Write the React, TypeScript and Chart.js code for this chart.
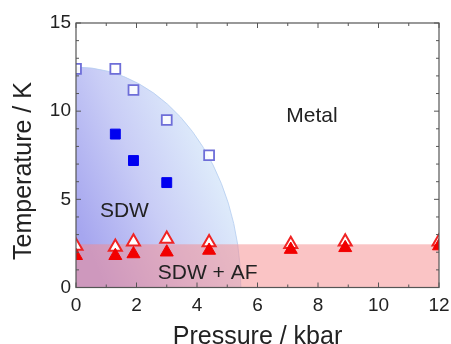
import React, { useEffect, useRef } from "react";
import { Chart, registerables } from "chart.js";

Chart.register(...registerables);

// ---- data ----
const tcOnsetP = [0, 1.3, 1.9, 3.0, 4.4];
const tcOnsetT = [12.4, 12.4, 11.2, 9.5, 7.5];
const tcMidP = [1.3, 1.9, 3.0];
const tcMidT = [8.7, 7.2, 5.95];
const afOnsetP = [0, 1.3, 1.9, 3.0, 4.4, 7.1, 8.9, 12];
const afOnsetT = [2.35, 2.3, 2.6, 2.75, 2.55, 2.45, 2.6, 2.6];
const afMidP = [0, 1.3, 1.9, 3.0, 4.4, 7.1, 8.9, 12];
const afMidT = [1.8, 1.8, 1.9, 2.0, 2.1, 2.15, 2.25, 2.35];

const sdwDome = [5.45, 12.5]; // [critical pressure, T at zero pressure]
const afBand = [0, 12, 2.45]; // [p from, p to, T top]
const regionNames = ["Metal", "SDW", "SDW + AF"];
const regionP = [7.8, 1.6, 4.35];
const regionT = [9.7, 4.3, 0.8];

const xRange = [0, 12];
const yRange = [0, 15];
const xTitle = "Pressure / kbar";
const yTitle = "Temperature / K";

const FONT = "'Liberation Sans', Arial, Helvetica, sans-serif";

const pts = (xs: number[], ys: number[]) => xs.map((x, i) => ({ x, y: ys[i] }));

const phasePlugin = {
  id: "phases",
  beforeDatasetsDraw(chart: any) {
    const { ctx, chartArea: a, scales } = chart;
    const xs = scales.x, ys = scales.y;
    ctx.save();
    ctx.beginPath();
    ctx.rect(a.left, a.top, a.right - a.left, a.bottom - a.top);
    ctx.clip();
    // SDW dome
    const cx = xs.getPixelForValue(0);
    const cy = ys.getPixelForValue(0);
    const rx = xs.getPixelForValue(sdwDome[0]) - cx;
    const ry = cy - ys.getPixelForValue(sdwDome[1]);
    const g = ctx.createLinearGradient(cx, cy - ry * 0.3, cx + rx * 0.95, cy - ry * 0.6);
    g.addColorStop(0, "#a6a6ef");
    g.addColorStop(0.45, "#c9cdf6");
    g.addColorStop(1, "#e4f4fc");
    ctx.beginPath();
    ctx.moveTo(cx, cy);
    ctx.ellipse(cx, cy, rx, ry, 0, -Math.PI / 2, 0);
    ctx.closePath();
    ctx.fillStyle = g;
    ctx.fill();
    ctx.beginPath();
    ctx.ellipse(cx, cy, rx, ry, 0, -Math.PI / 2, 0);
    ctx.strokeStyle = "rgba(180,205,240,0.8)";
    ctx.lineWidth = 1;
    ctx.stroke();
    // AF band
    const bx0 = xs.getPixelForValue(afBand[0]);
    const bx1 = xs.getPixelForValue(afBand[1]);
    const by = ys.getPixelForValue(afBand[2]);
    ctx.fillStyle = "rgba(246,138,140,0.5)";
    ctx.fillRect(bx0, by, bx1 - bx0, cy - by);
    // labels
    ctx.fillStyle = "#222";
    ctx.font = `21px ${FONT}`;
    ctx.textAlign = "center";
    ctx.textBaseline = "middle";
    regionNames.forEach((n, i) => {
      ctx.fillText(n, xs.getPixelForValue(regionP[i]), ys.getPixelForValue(regionT[i]));
    });
    ctx.restore();
  },
  afterDatasetsDraw(chart: any) {
    const { ctx, chartArea: a, scales } = chart;
    const xs = scales.x, ys = scales.y;
    ctx.save();
    ctx.strokeStyle = "#555";
    ctx.lineWidth = 1.2;
    ctx.strokeRect(a.left, a.top, a.right - a.left, a.bottom - a.top);
    ctx.lineWidth = 1;
    ctx.beginPath();
    for (let v = xRange[0]; v <= xRange[1]; v += 1) {
      const px = xs.getPixelForValue(v);
      const len = v % 2 === 0 ? 5 : 3;
      ctx.moveTo(px, a.bottom);
      ctx.lineTo(px, a.bottom - len);
      ctx.moveTo(px, a.top);
      ctx.lineTo(px, a.top + len);
    }
    for (let v = yRange[0]; v <= yRange[1]; v += 1) {
      const py = ys.getPixelForValue(v);
      const len = v % 5 === 0 ? 5 : 3;
      ctx.moveTo(a.left, py);
      ctx.lineTo(a.left + len, py);
      ctx.moveTo(a.right, py);
      ctx.lineTo(a.right - len, py);
    }
    ctx.stroke();
    // y title
    ctx.fillStyle = "#222";
    ctx.font = `25px ${FONT}`;
    ctx.textAlign = "center";
    ctx.textBaseline = "middle";
    ctx.translate(24, 171);
    ctx.rotate(-Math.PI / 2);
    ctx.fillText(yTitle, 0, 0);
    ctx.restore();
  },
};

export default function App() {
  const ref = useRef<HTMLCanvasElement>(null);
  useEffect(() => {
    if (!ref.current) return;
    const chart = new Chart(ref.current, {
      type: "scatter",
      data: {
        datasets: [
          {
            label: "AF (mid)",
            data: pts(afMidP, afMidT),
            pointStyle: "triangle",
            pointRadius: 7.5,
            backgroundColor: "#f20000",
            borderColor: "#f20000",
            borderWidth: 1,
            clip: 0,
            order: 1,
          },
          {
            label: "AF (onset)",
            data: pts(afOnsetP, afOnsetT),
            pointStyle: "triangle",
            pointRadius: 7.5,
            backgroundColor: "#ffffff",
            borderColor: "#f02424",
            borderWidth: 2,
            clip: 0,
            order: 2,
          },
          {
            label: "SDW (mid)",
            data: pts(tcMidP, tcMidT),
            pointStyle: "rect",
            pointRadius: 7,
            backgroundColor: "#0000f0",
            borderColor: "#0000f0",
            borderWidth: 1,
            clip: 0,
            order: 3,
          },
          {
            label: "SDW (onset)",
            data: pts(tcOnsetP, tcOnsetT),
            pointStyle: "rect",
            pointRadius: 7,
            backgroundColor: "rgba(255,255,255,0.85)",
            borderColor: "#6e6ed8",
            borderWidth: 1.8,
            clip: 0,
            order: 4,
          },
        ],
      },
      options: {
        animation: false,
        responsive: true,
        maintainAspectRatio: false,
        layout: { padding: { top: 23, right: 0, left: 0, bottom: 0 } },
        plugins: { legend: { display: false }, tooltip: { enabled: false } },
        scales: {
          x: {
            type: "linear",
            min: xRange[0],
            max: xRange[1],
            grid: { display: false, drawTicks: false },
            border: { display: false },
            ticks: { stepSize: 2, padding: 7, color: "#222", font: { family: FONT, size: 19 } },
            title: {
              display: true,
              text: xTitle,
              color: "#222",
              font: { family: FONT, size: 25 },
              padding: { top: 0, bottom: -8 },
            },
            afterFit: (s: any) => {
              s.height = 56.5;
              s.paddingRight = 12;
              s.paddingLeft = 0;
            },
          },
          y: {
            type: "linear",
            min: yRange[0],
            max: yRange[1],
            grid: { display: false, drawTicks: false },
            border: { display: false },
            ticks: { stepSize: 5, padding: 5, color: "#222", font: { family: FONT, size: 19 } },
            afterFit: (s: any) => {
              s.width = 76;
            },
          },
        },
      },
      plugins: [phasePlugin],
    });
    return () => chart.destroy();
  }, []);
  return (
    <div style={{ position: "absolute", left: 0, top: 0, width: 451, height: 344, background: "#fff" }}>
      <canvas ref={ref} />
    </div>
  );
}
